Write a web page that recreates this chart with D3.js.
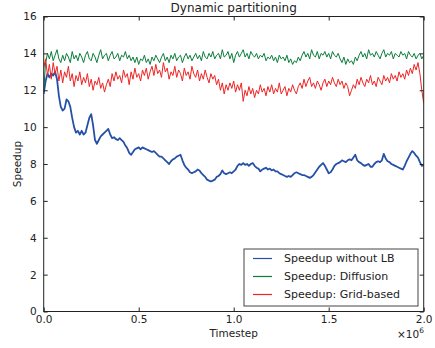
<!DOCTYPE html>
<html>
<head>
<meta charset="utf-8">
<script src="https://cdn.jsdelivr.net/npm/d3@7"></script>
<style>
  body { margin: 0; background: #fff; }
  svg { font-family: "DejaVu Sans", sans-serif; }
</style>
</head>
<body>
<div class="container"></div>
<script>
// one sample every 10,000 timesteps, 0 .. 2,000,000
const step = 10000;

const withoutLB = [
  11.8, 12.5, 12.9, 12.7, 12.9, 12.8, 13.0, 12.6, 11.7, 11.1,
  10.9, 11.0, 11.5, 11.4, 11.1, 10.5, 10.0, 9.7, 9.8, 9.6,
  9.8, 9.6, 9.7, 10.1, 10.5, 10.7, 10.1, 9.3, 9.1, 9.3,
  9.5, 9.6, 9.7, 9.8, 9.9, 9.6, 9.4, 9.45, 9.35, 9.3,
  9.4, 9.3, 9.2, 9.0, 8.85, 8.6, 8.5, 8.65, 8.8, 8.85,
  8.9, 8.8, 8.9, 8.85, 8.8, 8.75, 8.7, 8.65, 8.7, 8.6,
  8.5, 8.4, 8.4, 8.3, 8.2, 8.1, 8.0, 8.15, 8.25, 8.3,
  8.4, 8.45, 8.5, 8.2, 7.95, 7.8, 7.7, 7.55, 7.5, 7.55,
  7.6, 7.7, 7.65, 7.5, 7.4, 7.3, 7.15, 7.1, 7.05, 7.1,
  7.15, 7.3, 7.35, 7.45, 7.65, 7.5, 7.45, 7.5, 7.55, 7.5,
  7.6, 7.7, 7.9, 8.0, 7.95, 8.05, 7.95, 8.0, 7.9, 8.0,
  8.05, 7.9, 7.8, 7.75, 7.6, 7.7, 7.75, 7.8, 7.7, 7.75,
  7.65, 7.7, 7.6, 7.6, 7.5, 7.45, 7.4, 7.35, 7.3, 7.35,
  7.3, 7.4, 7.5, 7.55, 7.5, 7.45, 7.4, 7.4, 7.35, 7.3,
  7.25, 7.3, 7.4, 7.55, 7.7, 7.85, 7.95, 8.05, 7.9, 7.7,
  7.5, 7.55, 7.7, 7.9, 8.0, 8.05, 8.1, 8.2, 8.15, 8.1,
  8.2, 8.25, 8.2, 8.35, 8.5, 8.2, 8.1, 8.05, 7.95, 7.9,
  7.95, 8.0, 7.85, 7.85, 8.0, 8.1, 8.15, 8.1, 8.2, 8.55,
  8.3, 8.15, 8.1, 8.0, 7.95, 7.9, 7.85, 7.8, 7.75, 7.7,
  7.9, 8.15, 8.35, 8.55, 8.7, 8.6, 8.45, 8.35, 8.1, 7.9,
  7.95
];

const diffusion = [
  12.0, 13.5, 14.0, 13.7, 14.1, 13.6, 13.9, 14.2, 13.7, 13.5,
  13.9, 13.6, 14.0, 13.8, 13.5, 14.1, 13.7, 13.9, 13.6, 14.0,
  13.8, 13.5, 13.9, 14.1, 13.7, 13.6, 14.0, 13.8, 13.5, 13.9,
  14.2, 13.7, 13.9, 14.0, 13.6, 13.9, 14.1, 13.7, 13.8, 14.0,
  13.6, 13.9, 13.8, 14.1, 13.7, 13.9, 13.6, 13.8, 13.5, 13.8,
  13.4, 13.7, 13.6, 13.9, 13.5, 13.7, 13.4, 13.8, 13.6, 13.9,
  13.7, 13.5, 13.8, 14.0, 13.6, 13.8, 13.5, 13.9, 13.7, 14.0,
  13.6, 13.8, 13.9, 13.5, 13.8, 14.0, 13.7, 13.9, 13.6, 13.8,
  14.0, 13.7, 13.9, 13.6, 14.1, 13.8, 13.7, 14.0, 13.8, 14.1,
  13.7, 13.9, 14.0, 13.7, 14.2, 13.8, 13.9, 14.1, 13.7, 14.0,
  13.5, 13.9, 14.1, 13.8, 14.0, 14.2, 13.8, 14.0, 13.7, 14.1,
  13.9, 13.8, 14.0, 13.7, 13.9, 13.8, 14.0, 13.6, 13.8, 13.7,
  13.9, 13.6, 13.8, 13.5, 13.9, 13.7, 13.8, 13.6, 13.9, 13.5,
  13.7, 13.4, 13.6, 13.5, 13.8, 13.6, 13.9, 14.1, 13.8, 14.0,
  13.7, 14.2, 13.9, 13.8, 14.1, 13.7, 14.0, 13.9, 14.1, 13.8,
  14.0, 13.7, 14.1, 13.9, 13.8, 14.0, 13.7, 13.5, 13.8, 13.4,
  13.7, 13.5, 13.6, 13.4, 13.8, 13.6, 13.9, 14.1, 13.8, 14.0,
  13.7, 14.2, 13.9, 14.0, 13.8, 14.1, 13.9, 13.7, 14.0, 14.2,
  13.8, 14.0, 13.9, 14.1, 13.7, 14.0, 13.9, 13.8, 14.1, 13.9,
  14.0, 13.7, 14.1, 13.9, 13.8, 14.0, 13.7, 13.9, 14.0, 13.7,
  13.9
];

const gridBased = [
  13.2, 13.7, 12.8, 13.4, 12.6, 13.5, 12.9, 13.3, 12.5, 13.1,
  12.4, 13.0, 12.7, 13.3, 12.5, 12.9, 12.2, 12.8, 12.5, 13.0,
  12.3, 12.7, 12.4, 12.9, 12.2, 12.6, 12.0, 12.5, 12.3, 12.7,
  12.1, 12.4, 11.9, 12.3, 12.6, 12.2, 12.9, 12.5, 13.0, 12.6,
  12.8, 12.4, 13.1, 12.7, 12.9, 12.3, 13.0, 12.6, 13.2, 12.7,
  12.9, 12.5, 13.1, 12.8, 13.2, 12.6, 13.0, 13.3, 12.8, 13.4,
  12.9, 13.1, 12.7, 13.5, 13.0, 13.2, 12.6, 13.0, 12.8, 13.3,
  12.7, 13.1, 12.9, 12.5, 13.2, 12.8, 13.0, 12.6, 13.3, 12.9,
  12.7, 13.1, 12.5, 12.9, 12.6, 13.1, 12.7, 12.4, 12.9, 12.6,
  12.8, 12.3, 12.6, 12.0, 12.4, 11.8, 12.3, 12.0, 12.4, 12.1,
  12.5, 11.9, 12.3, 12.0, 12.4, 11.4, 12.0, 11.7, 12.2, 11.8,
  12.1, 11.6, 12.0, 11.8, 12.3, 11.9, 12.1, 11.7, 12.2, 11.9,
  12.3, 11.8, 12.1, 11.9, 12.4, 11.8, 12.0, 12.2, 11.7, 12.1,
  11.9, 12.3, 12.0, 11.8, 12.2, 12.4, 12.1, 12.6, 12.2, 12.5,
  12.7, 12.2, 12.4, 12.1, 12.5, 12.3, 12.0, 12.4, 12.6, 12.2,
  12.5, 12.3, 12.7, 12.4, 12.2, 12.6, 12.3, 12.5, 12.1, 12.4,
  12.2, 11.7, 12.0, 12.3, 12.1, 12.6, 12.3, 12.7, 12.4, 12.2,
  12.6, 12.4, 12.8, 12.3, 12.5, 12.2, 12.7, 12.5, 12.3, 12.8,
  12.5, 12.7, 12.4, 12.9, 12.6, 12.8, 12.5, 13.0, 12.7, 12.9,
  12.6, 13.1, 12.8, 13.2, 12.9, 13.4, 13.1, 13.5, 12.9, 12.0,
  11.3
];

const seriesNames = ['Speedup without LB', 'Speedup: Diffusion', 'Speedup: Grid-based'];
const seriesColors = ['#2550a8', '#0b7d3b', '#ee2424'];
const xTicks = [0, 0.5e6, 1.0e6, 1.5e6, 2.0e6];
const yTicks = [0, 2, 4, 6, 8, 10, 12, 14, 16];

const renderChart = () => {
  const width = 435;
  const height = 348;
  const margin = { top: 16.5, right: 11.3, bottom: 36.5, left: 43.7 };
  const chartWidth = width - margin.left - margin.right;
  const chartHeight = height - margin.top - margin.bottom;

  const svg = d3.select('.container').append('svg').attr('width', width).attr('height', height);
  const chart = svg.append('g').attr('transform', `translate(${margin.left},${margin.top})`);

  const xScale = d3.scaleLinear().domain([0, 2e6]).range([0, chartWidth]);
  const yScale = d3.scaleLinear().domain([0, 16]).range([chartHeight, 0]);

  const seriesData = [withoutLB, diffusion, gridBased];

  const clip = chart.append('clipPath').attr('id', 'plot-clip');
  clip.append('rect').attr('width', chartWidth).attr('height', chartHeight);

  const line = d3
    .line()
    .x((d, i) => xScale(i * step))
    .y(d => yScale(d));

  chart
    .append('g')
    .attr('clip-path', 'url(#plot-clip)')
    .selectAll('path')
    .data(seriesData)
    .enter()
    .append('path')
    .attr('d', line)
    .attr('fill', 'none')
    .attr('stroke', (d, i) => seriesColors[i])
    .attr('stroke-width', (d, i) => (i === 0 ? 1.8 : 1))
    .attr('stroke-linejoin', 'round');

  // matplotlib classic: ticks inside, on all four sides
  const xFmt = d => (d / 1e6).toFixed(1);
  const bottomAxis = d3.axisBottom(xScale).tickValues(xTicks).tickSize(-4).tickPadding(4).tickFormat(xFmt);
  const topAxis = d3.axisTop(xScale).tickValues(xTicks).tickSize(-4).tickFormat('');
  const leftAxis = d3.axisLeft(yScale).tickValues(yTicks).tickSize(-4).tickPadding(7);
  const rightAxis = d3.axisRight(yScale).tickValues(yTicks).tickSize(-4).tickFormat('');

  const axes = [
    chart.append('g').attr('transform', `translate(0,${chartHeight})`).call(bottomAxis),
    chart.append('g').call(topAxis),
    chart.append('g').call(leftAxis),
    chart.append('g').attr('transform', `translate(${chartWidth},0)`).call(rightAxis)
  ];
  axes.forEach(a => {
    a.select('.domain').remove();
    a.selectAll('line').attr('stroke', '#222');
    a.selectAll('text').attr('fill', '#222').style('font-size', '10.5px').style('font-family', '"DejaVu Sans", sans-serif');
  });

  chart
    .append('rect')
    .attr('width', chartWidth)
    .attr('height', chartHeight)
    .attr('fill', 'none')
    .attr('stroke', '#222')
    .attr('stroke-width', 1);

  svg
    .append('text')
    .text('Dynamic partitioning')
    .attr('x', margin.left + chartWidth / 2)
    .attr('y', 12)
    .attr('text-anchor', 'middle')
    .attr('fill', '#222')
    .style('font-size', '12px');

  svg
    .append('text')
    .text('Timestep')
    .attr('x', margin.left + chartWidth / 2)
    .attr('y', 337)
    .attr('text-anchor', 'middle')
    .attr('fill', '#222')
    .style('font-size', '10.5px');

  svg
    .append('text')
    .text('Speedup')
    .attr('x', -(margin.top + chartHeight / 2))
    .attr('y', 21)
    .attr('text-anchor', 'middle')
    .attr('transform', 'rotate(-90)')
    .attr('fill', '#222')
    .style('font-size', '10.5px');

  const offset = svg.append('text').attr('x', 397).attr('y', 338).attr('fill', '#222').style('font-size', '10.5px');
  offset.append('tspan').text('×10');
  offset.append('tspan').text('6').attr('dy', -5).style('font-size', '7.5px');

  // legend
  const legend = svg.append('g').attr('transform', 'translate(244,249)');
  legend
    .append('rect')
    .attr('width', 174)
    .attr('height', 57)
    .attr('fill', '#fff')
    .attr('stroke', '#444')
    .attr('stroke-width', 1);

  const entry = legend
    .selectAll('g.entry')
    .data(seriesNames)
    .enter()
    .append('g')
    .attr('class', 'entry')
    .attr('transform', (d, i) => `translate(0,${9.5 + i * 18})`);

  entry
    .append('line')
    .attr('x1', 9)
    .attr('x2', 28)
    .attr('stroke', (d, i) => seriesColors[i])
    .attr('stroke-width', 1.2);

  entry
    .append('text')
    .text(d => d)
    .attr('x', 40)
    .attr('dy', '0.35em')
    .attr('fill', '#222')
    .style('font-size', '11px');
};

renderChart();
</script>
</body>
</html>
